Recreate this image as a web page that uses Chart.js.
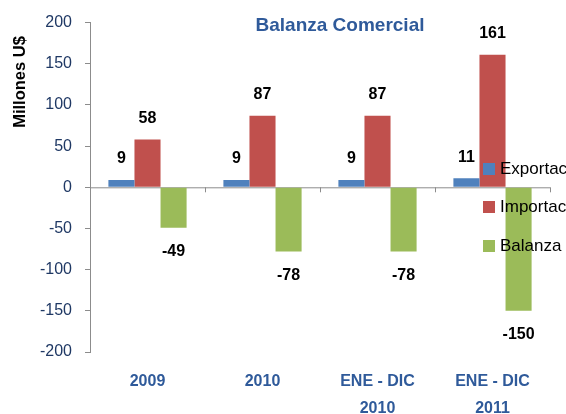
<!DOCTYPE html>
<html>
<head>
<meta charset="utf-8">
<script src="https://cdn.jsdelivr.net/npm/chart.js@4"></script>
<style>
  html, body { margin: 0; padding: 0; background: #fff; }
  #chart { display: block; }
</style>
</head>
<body>
<canvas id="chart" width="566" height="414"></canvas>
<script>
// --- Data ---
const categories = ['2009', '2010', ['ENE - DIC', '2010'], ['ENE - DIC', '2011']];
const seriesNames = ['Exportaciones', 'Importaciones', 'Balanza'];
const exportaciones = [9, 9, 9, 11];
const importaciones = [58, 87, 87, 161];
const balanza = [-49, -78, -78, -150];
const yMin = -200, yMax = 200, yStep = 50;

const chartTitle = 'Balanza Comercial';
const yAxisTitle = 'Millones U$';

const colors = ['#4F81BD', '#C0504D', '#9BBB59'];
const FONT = "'Liberation Sans', Arial, sans-serif";
const titleBlue = '#2F5A9A';

// --- Extra drawing: zero line, value labels, title, legend ---
const decorPlugin = {
  id: 'decor',
  beforeDatasetsDraw(chart) {
    const { ctx, chartArea, scales } = chart;
    const y0 = scales.y.getPixelForValue(0);
    ctx.save();
    ctx.strokeStyle = '#8c8c8c';
    ctx.lineWidth = 1;
    ctx.beginPath();
    ctx.moveTo(chartArea.left, y0 + 0.5);
    ctx.lineTo(chartArea.right, y0 + 0.5);
    // category separators on the zero line
    const n = categories.length;
    const w = (chartArea.right - chartArea.left) / n;
    for (let i = 1; i <= n; i++) {
      const x = Math.round(chartArea.left + i * w) + 0.5;
      ctx.moveTo(x, y0);
      ctx.lineTo(x, y0 + 5);
    }
    ctx.stroke();
    ctx.restore();
  },
  afterDatasetsDraw(chart) {
    const { ctx } = chart;
    ctx.save();
    ctx.font = 'bold 16px ' + FONT;
    ctx.fillStyle = '#000';
    ctx.textAlign = 'center';
    ctx.textBaseline = 'middle';
    chart.data.datasets.forEach((ds, di) => {
      const meta = chart.getDatasetMeta(di);
      meta.data.forEach((bar, i) => {
        const v = ds.data[i];
        const y = v >= 0 ? bar.y - 21 : bar.y + 24;
        ctx.fillText(String(v), bar.x, y);
      });
    });
    ctx.restore();
  },
  afterDraw(chart) {
    const { ctx } = chart;
    ctx.save();
    // title
    ctx.font = 'bold 19px ' + FONT;
    ctx.fillStyle = titleBlue;
    ctx.textAlign = 'center';
    ctx.textBaseline = 'middle';
    ctx.fillText(chartTitle, 340, 26);

    // y axis title
    ctx.save();
    ctx.translate(20, 82);
    ctx.rotate(-Math.PI / 2);
    ctx.font = 'bold 16.5px ' + FONT;
    ctx.fillStyle = '#000';
    ctx.fillText(yAxisTitle, 0, 0);
    ctx.restore();

    // legend (runs off the right edge like the original)
    const legendY = [169, 207, 246];
    ctx.font = '17px ' + FONT;
    ctx.textAlign = 'left';
    seriesNames.forEach((name, i) => {
      ctx.fillStyle = colors[i];
      ctx.fillRect(483, legendY[i] - 6, 12, 12);
      ctx.fillStyle = '#000';
      ctx.fillText(name, 500, legendY[i]);
    });
    ctx.restore();
  }
};

const chart = new Chart(document.getElementById('chart'), {
  type: 'bar',
  data: {
    labels: categories,
    datasets: [
      { label: seriesNames[0], data: exportaciones, backgroundColor: colors[0] },
      { label: seriesNames[1], data: importaciones, backgroundColor: colors[1] },
      { label: seriesNames[2], data: balanza, backgroundColor: colors[2] }
    ]
  },
  options: {
    responsive: false,
    animation: false,
    layout: { padding: { top: 22, right: 16, bottom: 0, left: 0 } },
    datasets: { bar: { barPercentage: 1, categoryPercentage: 0.68 } },
    plugins: {
      legend: { display: false },
      title: { display: false },
      tooltip: { enabled: false }
    },
    scales: {
      x: {
        grid: { display: false, drawTicks: false },
        border: { display: false },
        ticks: {
          color: titleBlue,
          font: { family: FONT, size: 16, weight: 'bold', lineHeight: 1.7 },
          padding: 16,
          maxRotation: 0
        },
        afterFit(scale) { scale.height = 62; }
      },
      y: {
        min: yMin,
        max: yMax,
        grid: { drawOnChartArea: false, color: '#8c8c8c', tickLength: 5 },
        border: { display: true, color: '#8c8c8c' },
        ticks: {
          stepSize: yStep,
          color: '#1F3864',
          font: { family: FONT, size: 16 },
          padding: 13
        },
        afterFit(scale) { scale.width = 90; }
      }
    }
  },
  plugins: [decorPlugin]
});
</script>
</body>
</html>
